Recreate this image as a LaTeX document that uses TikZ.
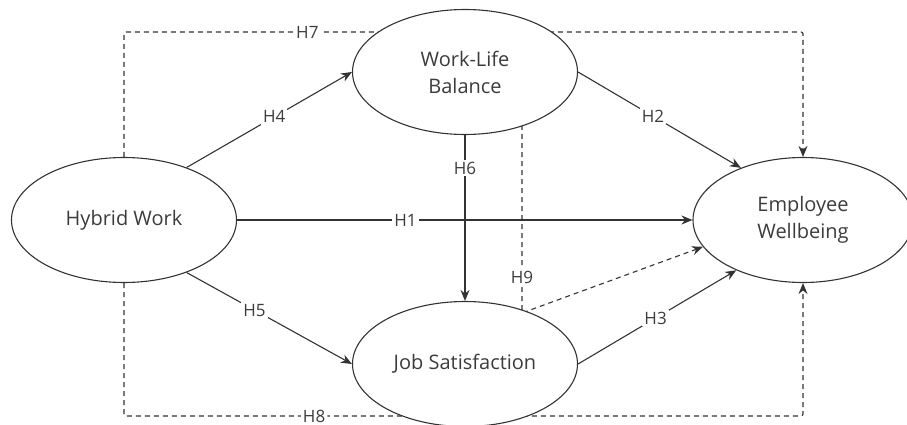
\documentclass[tikz,border=0pt]{standalone}
\usepackage{fontspec}
\setmainfont{Open Sans}
\usepackage{tikz}
\usetikzlibrary{arrows.meta, shapes, backgrounds, positioning}
\definecolor{ink}{HTML}{333333}
\definecolor{txt}{HTML}{3C3C3C}
\tikzstyle{construct} = [ellipse, draw=ink, fill=white, line width=1.1pt, minimum width=225pt,
                         minimum height=125pt, align=center, text=txt, font=\fontsize{20}{27}\selectfont]
\tikzstyle{path} = [draw=ink, line width=1.1pt, -{Stealth[length=11pt, width=9pt]}]
\tikzstyle{dashpath} = [path, dash pattern=on 5pt off 4pt, rounded corners=2pt]
\tikzstyle{hyp} = [fill=white, inner sep=2pt, text=txt, font=\fontsize{17}{19}\selectfont]

\begin{document}
\begin{tikzpicture}[x=1pt, y=-1pt]
				\useasboundingbox (0, 0) rectangle (907, 425);
				\clip (0, 0) rectangle (907, 425);

				\node (HW) [construct] at (124, 220) {Hybrid Work};
				\node (WLB) [construct] at (465, 72) {Work-Life\\Balance};
				\node (JS) [construct] at (465, 364) {Job Satisfaction};
				\node (EW) [construct, minimum width=220pt] at (803, 220) {Employee\\Wellbeing};

				\begin{scope}[on background layer]
				% direct paths
				\draw [path] (HW) -- node [hyp, pos=0.37] {H1} (EW);
				\draw [path] (HW.40) -- node [hyp, pos=0.53] {H4} (WLB.west);
				\draw [path] (HW.-40) -- node [hyp, pos=0.41] {H5} (JS.west);
				\draw [path] (WLB.east) -- node [hyp, pos=0.46] {H2} (EW.140);
				\draw [path] (JS.east) -- node [hyp, pos=0.49] {H3} (EW.217);
				\draw [path] (WLB) -- node [hyp, pos=0.2] {H6} (JS);

				% mediation via work-life balance
				\coordinate (H7Left) at (124, 32);
				\coordinate (H7Right) at (803, 32);
				\draw [dashpath] (HW.north) -- (H7Left) -- node [hyp, pos=0.27] {H7} (H7Right) -- (EW.north);

				% mediation via job satisfaction
				\coordinate (H8Left) at (124, 416);
				\coordinate (H8Right) at (803, 416);
				\draw [dashpath] (HW.south) -- (H8Left) -- node [hyp, pos=0.28] {H8} (H8Right) -- (EW.south);

				% serial mediation
				\coordinate (H9Top) at (522, 125);
				\coordinate (H9Bend) at (522, 313);
				\draw [dashpath, rounded corners=0pt] (H9Top) -- node [hyp, pos=0.81] {H9} (H9Bend) -- (EW.195);
				\end{scope}
			\end{tikzpicture}
\end{document}
